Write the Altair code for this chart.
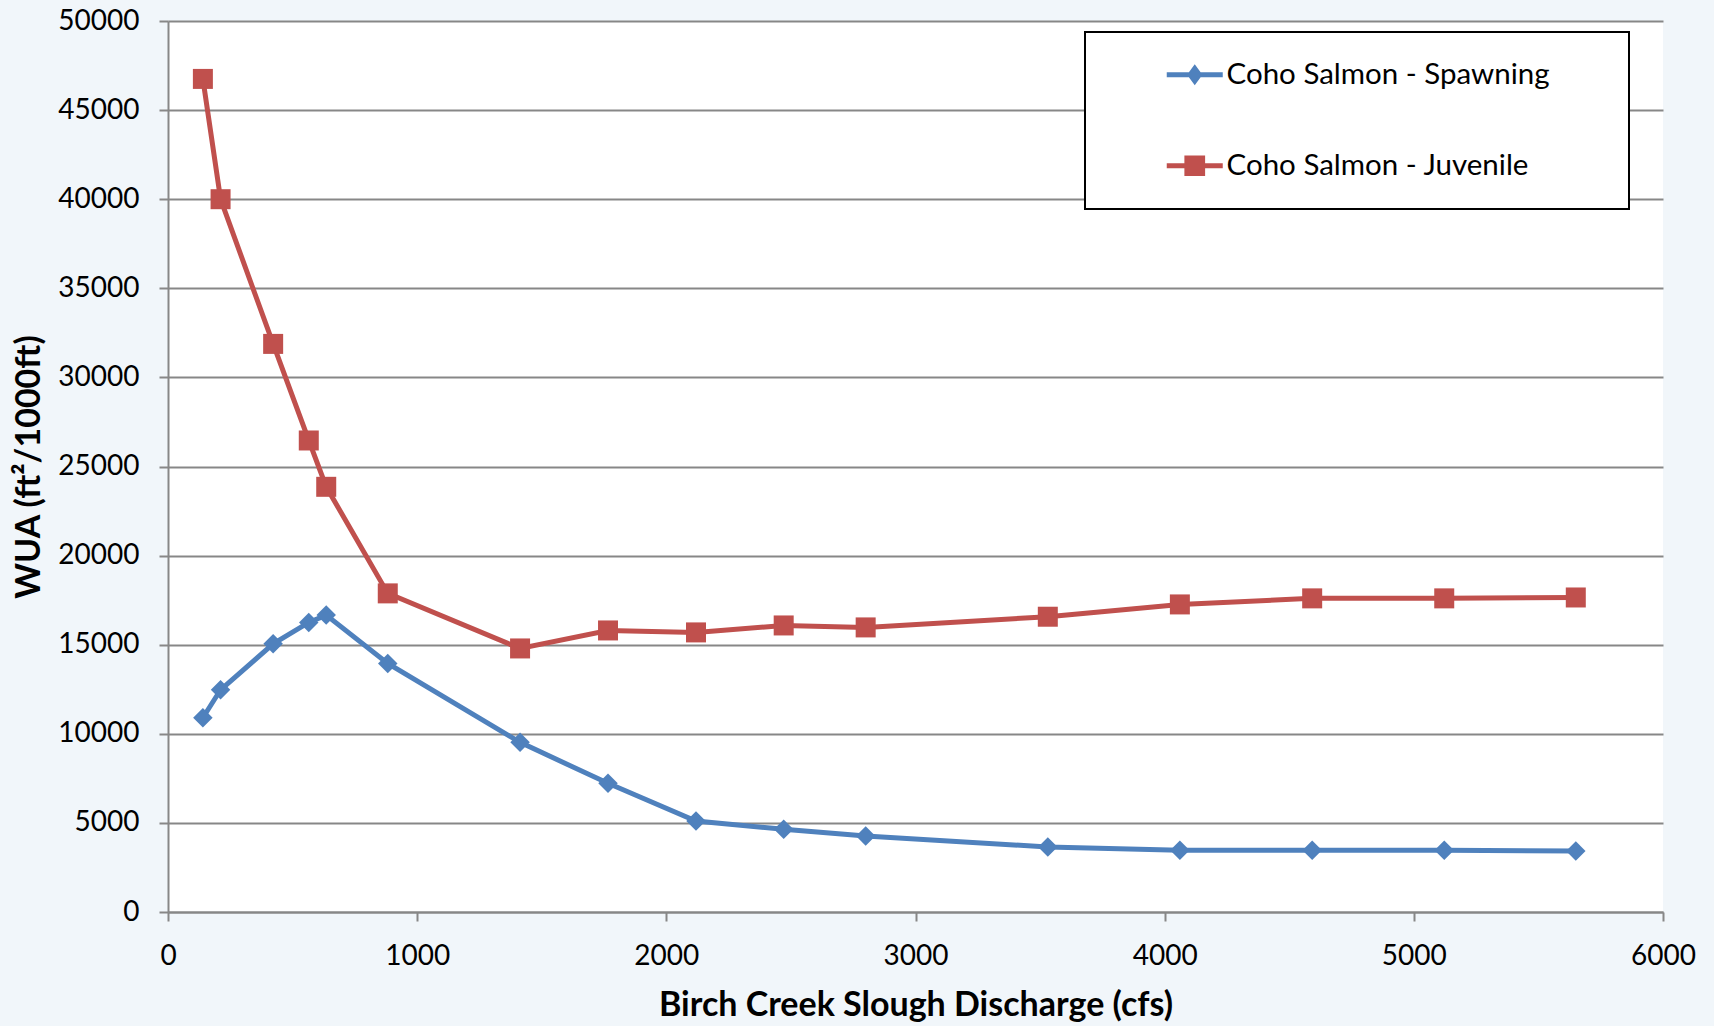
import altair as alt
import pandas as pd

# ---- data ----
discharge = [140, 211, 422, 565, 635, 882, 1413, 1766, 2119, 2471, 2800, 3531, 4061, 4592, 5122, 5650]
spawning = [10900, 12470, 15050, 16250, 16660, 13950, 9520, 7220, 5110, 4640, 4270, 3650, 3460, 3460, 3460, 3420]
juvenile = [46750, 40000, 31880, 26460, 23860, 17880, 14790, 15800, 15690, 16080, 15970, 16570, 17260, 17600, 17600, 17650]
series_names = ["Coho Salmon - Spawning", "Coho Salmon - Juvenile"]
series_colors = ["#4F81BD", "#C0504D"]
series_shapes = ["diamond", "square"]
series_sizes = [380, 400]
x_ticks = [0, 1000, 2000, 3000, 4000, 5000, 6000]
y_ticks = [0, 5000, 10000, 15000, 20000, 25000, 30000, 35000, 40000, 45000, 50000]

rows = []
for q, s, j in zip(discharge, spawning, juvenile):
    rows.append({"q": q, "wua": s, "series": series_names[0]})
    rows.append({"q": q, "wua": j, "series": series_names[1]})
df = pd.DataFrame(rows)

FONT = "Lato"
GRID = "#878787"

x_enc = alt.X("q:Q", scale=alt.Scale(domain=[0, 6000], nice=False),
              axis=alt.Axis(values=x_ticks, title="Birch Creek Slough Discharge (cfs)", grid=False,
                            format="d", tickSize=9, labelPadding=21, titlePadding=18, labelFlush=False))
y_enc = alt.Y("wua:Q", scale=alt.Scale(domain=[0, 50000], nice=False),
              axis=alt.Axis(values=y_ticks, title="WUA (ft²/1000ft)", grid=True,
                            format="d", tickSize=9, labelPadding=20, titlePadding=11, labelFlush=False))

base = alt.Chart(df)

layers = []
for name, col in zip(series_names, series_colors):
    layers.append(
        base.transform_filter(alt.datum.series == name)
        .mark_line(strokeWidth=5, color=col)
        .encode(x=x_enc, y=y_enc)
    )
for name, col, shp, sz in zip(series_names, series_colors, series_shapes, series_sizes):
    layers.append(
        base.transform_filter(alt.datum.series == name)
        .mark_point(filled=True, shape=shp, size=sz, opacity=1, color=col)
        .encode(x=x_enc, y=y_enc)
    )

# legend-only layer (no data drawn): line-with-marker symbols
# (the trailing empty sub-path only widens the legend box to the reference's size)
sym_diamond = ("M-2,-0.18L2,-0.18L2,0.18L-2,0.18Z "
               "M0,-0.75L0.55,0L0,0.75L-0.55,0Z M29,0Z")
sym_square = ("M-2,-0.18L2,-0.18L2,0.18L-2,0.18Z "
              "M-0.74,-0.74L0.74,-0.74L0.74,0.74L-0.74,0.74Z M29,0Z")
legend_cfg = alt.Legend(
    orient="none", legendX=917, legendY=11, title=None,
    padding=28, rowPadding=60, symbolSize=784, symbolOffset=67, labelOffset=17,
    labelFontSize=29.5, labelFont=FONT, labelColor="black", labelLimit=900,
    fillColor="white", strokeColor="black",
    symbolStrokeWidth=0,
)
layers.append(
    base.transform_filter("datum.q < 0").mark_point(filled=True, opacity=1).encode(
        x=x_enc, y=y_enc,
        color=alt.Color("series:N", scale=alt.Scale(domain=series_names, range=series_colors),
                        legend=legend_cfg),
        shape=alt.Shape("series:N", scale=alt.Scale(domain=series_names, range=[sym_diamond, sym_square]),
                        legend=legend_cfg),
    )
)

chart = alt.layer(*layers).properties(
    width=1495, height=891,
    autosize=alt.AutoSizeParams(type="none"),
    padding={"left": 168, "top": 21, "right": 51, "bottom": 114},
    background="#f1f6fa",
).configure_view(
    fill="white", stroke=None,
).configure_axis(
    labelFont=FONT, labelFontSize=28, labelColor="black",
    titleFont=FONT, titleFontSize=34, titleFontWeight="bold", titleColor="black",
    domainColor=GRID, domainWidth=2, tickColor=GRID, tickWidth=2,
    gridColor=GRID, gridWidth=2,
).configure_legend(
    strokeWidth=2,
)

chart.save("out.html", embed_options={"renderer": "svg", "actions": False})
